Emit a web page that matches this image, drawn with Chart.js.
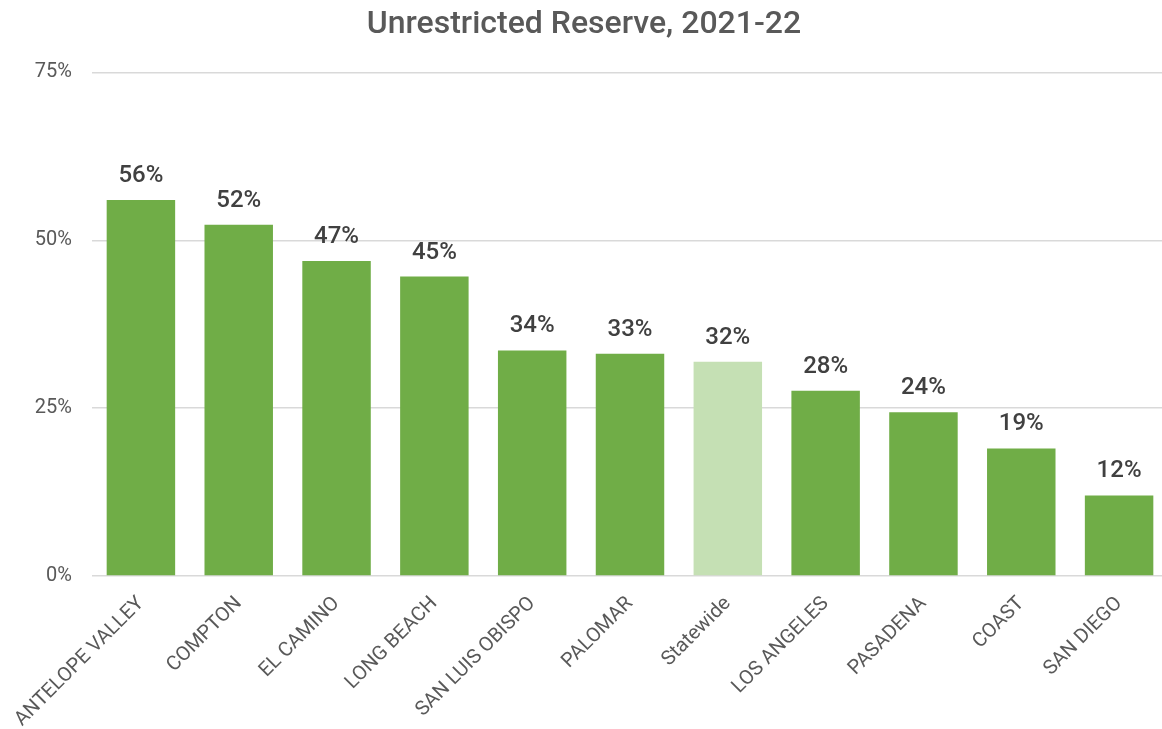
<!DOCTYPE html>
<html>
<head>
<meta charset="utf-8">
<script src="https://cdn.jsdelivr.net/npm/chart.js@4/dist/chart.umd.min.js"></script>
<style>
  html, body { margin: 0; padding: 0; background: #fff; overflow: hidden; }
  #wrap { width: 1168px; height: 729px; position: relative; }
</style>
</head>
<body>
<div id="wrap"><canvas id="grafico"></canvas></div>
<script>
// datos
const colegios = ['ANTELOPE VALLEY', 'COMPTON', 'EL CAMINO', 'LONG BEACH', 'SAN LUIS OBISPO',
  'PALOMAR', 'Statewide', 'LOS ANGELES', 'PASADENA', 'COAST', 'SAN DIEGO'];
const reserva = [56.0, 52.3, 46.9, 44.6, 33.6, 33.1, 31.9, 27.6, 24.4, 19.0, 12.0];
const ticksY = [0, 25, 50, 75];

const VERDE = '#70AD47';
const VERDE_CLARO = '#C5E0B4';

// etiquetas encima de cada barra
const etiquetasBarras = {
  id: 'etiquetasBarras',
  afterDatasetsDraw(chart) {
    const ctx = chart.ctx;
    const meta = chart.getDatasetMeta(0);
    ctx.save();
    ctx.font = '500 24px Roboto';
    ctx.fillStyle = '#404040';
    ctx.textAlign = 'center';
    ctx.textBaseline = 'middle';
    meta.data.forEach((bar, i) => {
      ctx.fillText(Math.round(reserva[i]) + '%', bar.x, bar.y - 24);
    });
    ctx.restore();
  }
};

new Chart(document.getElementById('grafico'), {
  type: 'bar',
  data: {
    labels: colegios,
    datasets: [{
      data: reserva,
      backgroundColor: colegios.map(c => c === 'Statewide' ? VERDE_CLARO : VERDE),
      categoryPercentage: 0.7,
      barPercentage: 1.0
    }]
  },
  options: {
    responsive: true,
    maintainAspectRatio: false,
    animation: false,
    layout: { padding: 0 },
    plugins: {
      legend: { display: false },
      tooltip: { enabled: false },
      title: {
        display: true,
        text: 'Unrestricted Reserve, 2021-22',
        color: '#595959',
        font: { family: 'Roboto', size: 32, weight: '500' },
        padding: { top: 6, bottom: 28 }
      }
    },
    scales: {
      x: {
        afterFit: axis => { axis.height = 153; },
        grid: { display: false },
        border: { display: false },
        ticks: {
          color: '#595959',
          font: { family: 'Roboto', size: 20 },
          maxRotation: 45,
          minRotation: 45,
          autoSkip: false,
          padding: 8
        }
      },
      y: {
        min: 0,
        max: 75,
        afterBuildTicks: axis => { axis.ticks = ticksY.map(v => ({ value: v })); },
        afterFit: axis => { axis.width = 92; },
        grid: { color: '#d9d9d9', lineWidth: 1.5, drawTicks: false },
        border: { display: false },
        ticks: {
          color: '#595959',
          font: { family: 'Roboto', size: 20 },
          padding: 20,
          callback: v => v + '%'
        }
      }
    }
  },
  plugins: [etiquetasBarras]
});
</script>
</body>
</html>
